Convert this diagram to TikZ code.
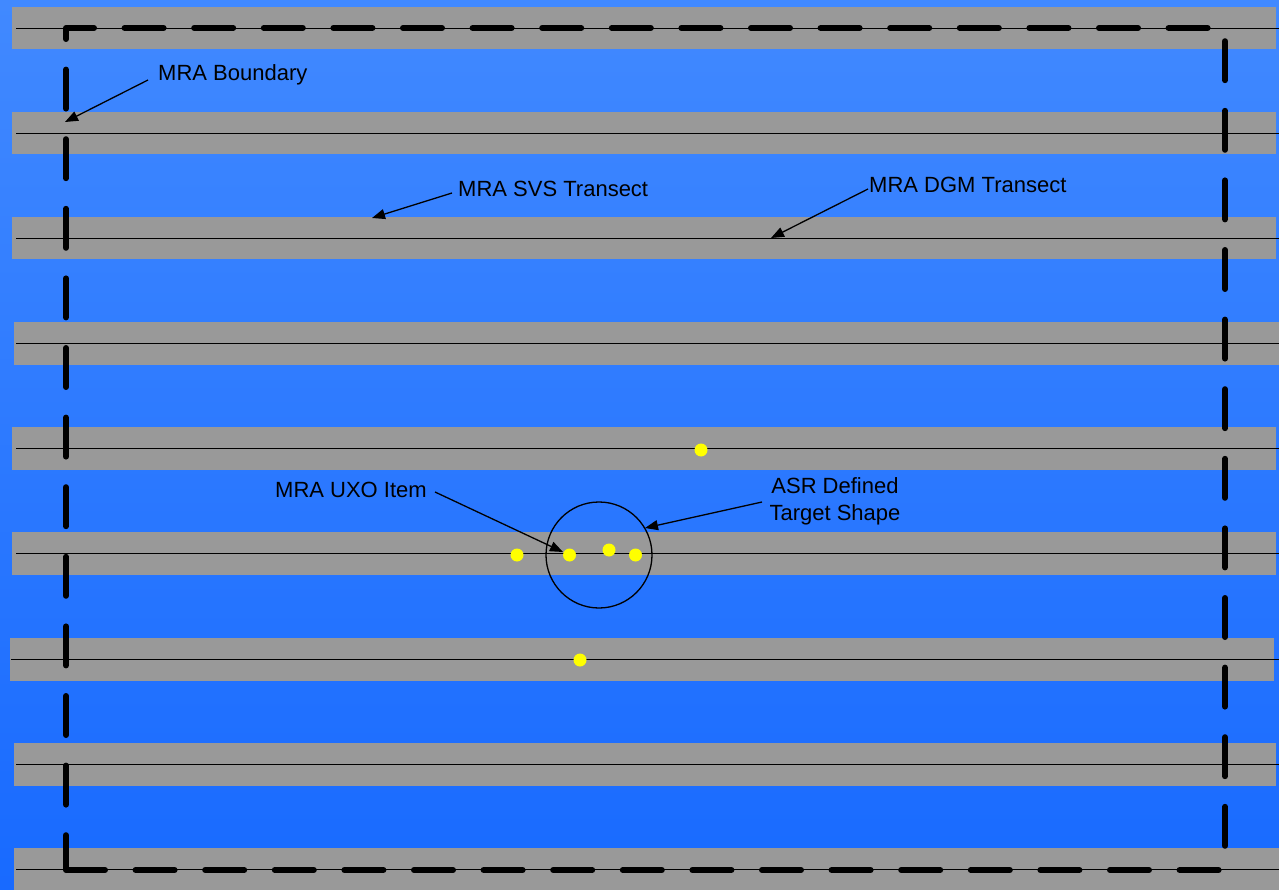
\documentclass[tikz,border=0pt]{standalone}
\usepackage{fontspec}
\setmainfont{Liberation Sans}
\usetikzlibrary{arrows.meta}
\definecolor{bgtop}{RGB}{65,137,255}
\definecolor{bgbot}{RGB}{24,106,255}
\definecolor{band}{RGB}{153,153,153}
\definecolor{uxo}{RGB}{255,255,0}
\tikzset{
  bandbox/.style={fill=band, draw=none},
  transect/.style={draw=black, line width=1.2pt},
  boundary/.style={draw=black, line width=6pt, line cap=round, line join=round, dash pattern=on 39pt off 30.6pt},
  lbl/.style={inner sep=0pt, font=\fontsize{22}{27}\selectfont, text=black},
  callout/.style={draw=black, line width=1.3pt, -{Triangle[length=13pt,width=10pt]}},
  item/.style={circle, fill=uxo, draw=none, minimum size=13pt, inner sep=0pt},
}
\begin{document}
\begin{tikzpicture}[x=1pt,y=-1pt]
\useasboundingbox (0,0) rectangle (1279,890);
\shade[top color=bgtop, bottom color=bgbot] (0,0) rectangle (1279,890);
% bands and transect lines
\foreach \xa/\xb/\yt/\xl/\name in {12/1276/7/16/t1, 12/1276/112/16/t2, 12/1276/217/16/t3, 14/1279/322/16/t4, 12/1276/427/16/t5, 12/1276/532/16/t6, 10/1274/638/11/t7, 14/1276/743/16/t8, 14/1279/848/16/t9}{
  \path[bandbox] (\xa,\yt) rectangle (\xb,\yt+42.5);
  \coordinate (\name w) at (\xl,\yt+21.3);
  \coordinate (\name e) at (1279,\yt+21.3);
  \draw[transect] (\name w) -- (\name e);
}
% MRA boundary
\coordinate (bl) at (66,870);
\coordinate (br) at (1225,870);
\coordinate (tr) at (1225,28);
\coordinate (tl) at (66,28);
\draw[boundary] (bl) -- (br) -- (tr) -- (tl) -- cycle;
% target circle
\node[circle, draw=black, line width=1.3pt, minimum size=106pt, inner sep=0pt] (target) at (599,555) {};
% UXO items
\node[item] (u1) at (701,450) {};
\node[item] (u2) at (517,555) {};
\node[item] (u3) at (569.5,555) {};
\node[item] (u4) at (609,550) {};
\node[item] (u5) at (635.5,555) {};
\node[item] (u6) at (580,660) {};
% labels
\node[lbl, anchor=base west] (lbound) at (158,81) {MRA Boundary};
\node[lbl, anchor=base west] (lsvs) at (458,197) {MRA SVS Transect};
\node[lbl, anchor=base west] (ldgm) at (869,193) {MRA DGM Transect};
\node[lbl, anchor=base west] (luxo) at (275,497) {MRA UXO Item};
\node[lbl, align=center, anchor=base] (lasr) at (835,520) {ASR Defined\\Target Shape};
% callout arrows
\coordinate (sbound) at (148,80);
\coordinate (ebound) at (65,122);
\coordinate (ssvs) at (452,193);
\coordinate (esvs) at (372,218);
\coordinate (sdgm) at (868,189);
\coordinate (edgm) at (771,238);
\coordinate (suxo) at (435,492);
\coordinate (euxo) at (563,552);
\coordinate (sasr) at (762,502);
\coordinate (easr) at (645,528);
\draw[callout] (sbound) -- (ebound);
\draw[callout] (ssvs) -- (esvs);
\draw[callout] (sdgm) -- (edgm);
\draw[callout] (suxo) -- (euxo);
\draw[callout] (sasr) -- (easr);
\end{tikzpicture}
\end{document}
